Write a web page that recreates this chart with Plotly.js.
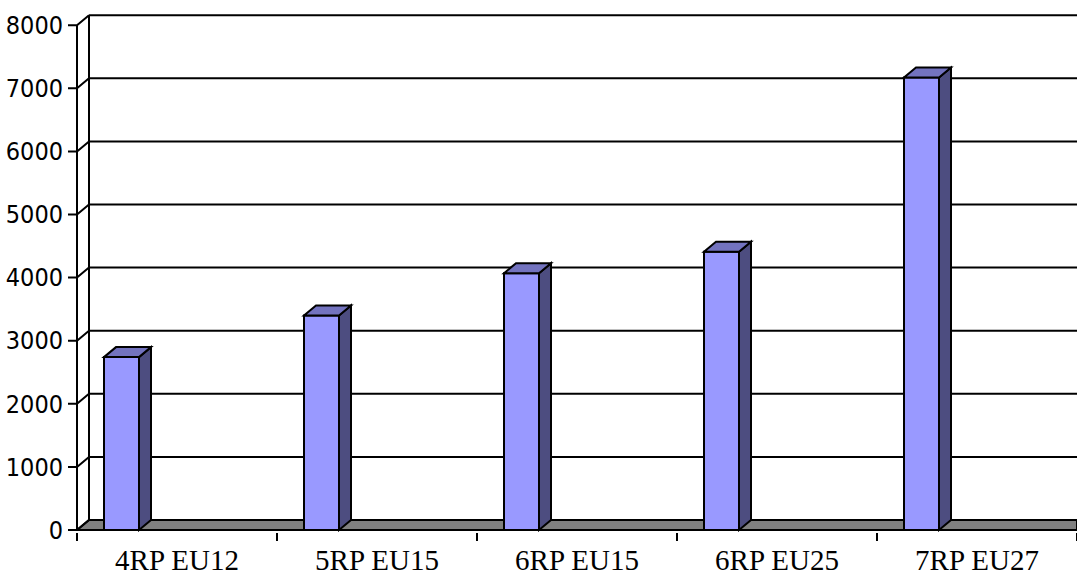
<!DOCTYPE html>
<html>
<head>
<meta charset="utf-8">
<script src="https://cdn.plot.ly/plotly-3.0.1.min.js"></script>
<style>
  html, body { margin: 0; padding: 0; background: #ffffff; }
  #chart { width: 1077px; height: 578px; }
</style>
</head>
<body>
<div id="chart"></div>
<script>
// ---- data ----
const categories = ["4RP EU12", "5RP EU15", "6RP EU15", "6RP EU25", "7RP EU27"];
const values = [2740, 3400, 4070, 4410, 7170];
const yTickValues = [0, 1000, 2000, 3000, 4000, 5000, 6000, 7000, 8000];
const yTickLabels = ["0", "1000", "2000", "3000", "4000", "5000", "6000", "7000", "8000"];

// ---- geometry / style ----
const W = 1077, H = 578;
const margin = { l: 68, r: 0, t: 8, b: 46 };
const plotW = W - margin.l - margin.r;
const plotH = H - margin.t - margin.b;
const pxPerCat = 200;                 // pixels per category
const pxPerUnit = 0.0631;             // pixels per y unit
const depthPx = { x: 12, y: 10 };     // 3D depth offset in pixels
const dX = depthPx.x / pxPerCat;      // depth in x data units
const dY = depthPx.y / pxPerUnit;     // depth in y data units
const xMin = 4.5 - plotW / pxPerCat;
const yMin = -2 / pxPerUnit;
const yMax = yMin + plotH / pxPerUnit;
const barOffset = -0.365, barWidth = 0.175;
const frontColor = "#9999FF", topColor = "#7373BF", sideColor = "#4D4D80";
const lineCol = "#000000";

const shapes = [];
// back-wall gridlines
yTickValues.forEach(v => {
  shapes.push({ type: "line", xref: "x", yref: "y", layer: "below",
    x0: -0.5 + dX, x1: 4.5, y0: v + dY, y1: v + dY,
    line: { color: lineCol, width: 2 } });
});
// floor
shapes.push({ type: "path", xref: "x", yref: "y", layer: "below",
  path: `M -0.5,0 L 4.5,0 L 4.5,${dY} L ${-0.5 + dX},${dY} Z`,
  fillcolor: "#808080", line: { color: lineCol, width: 2 } });
// back wall left edge
shapes.push({ type: "line", xref: "x", yref: "y", layer: "below",
  x0: -0.5 + dX, x1: -0.5 + dX, y0: dY, y1: 8000 + dY,
  line: { color: lineCol, width: 2 } });
// front axis line
shapes.push({ type: "line", xref: "x", yref: "y", layer: "below",
  x0: -0.5, x1: -0.5, y0: 0, y1: 8000,
  line: { color: lineCol, width: 2 } });
// y ticks (horizontal stub + diagonal connector to back wall)
yTickValues.forEach(v => {
  shapes.push({ type: "path", xref: "x", yref: "y", layer: "below",
    path: `M ${xMin},${v} L -0.5,${v} L ${-0.5 + dX},${v + dY}`,
    line: { color: lineCol, width: 2 } });
});
// bar side and top faces
values.forEach((v, i) => {
  const xl = i + barOffset, xr = i + barOffset + barWidth;
  shapes.push({ type: "path", xref: "x", yref: "y", layer: "above",
    path: `M ${xr},0 L ${xr + dX},${dY} L ${xr + dX},${v + dY} L ${xr},${v} Z`,
    fillcolor: sideColor, line: { color: lineCol, width: 2 } });
  shapes.push({ type: "path", xref: "x", yref: "y", layer: "above",
    path: `M ${xl},${v} L ${xr},${v} L ${xr + dX},${v + dY} L ${xl + dX},${v + dY} Z`,
    fillcolor: topColor, line: { color: lineCol, width: 2 } });
});

const trace = {
  type: "bar",
  x: [0, 1, 2, 3, 4],
  y: values,
  offset: barOffset,
  width: barWidth,
  marker: { color: frontColor, line: { color: lineCol, width: 2 } },
  hoverinfo: "skip"
};

const layout = {
  width: W, height: H,
  margin: margin,
  paper_bgcolor: "#ffffff",
  plot_bgcolor: "rgba(0,0,0,0)",
  showlegend: false,
  bargap: 0,
  xaxis: {
    type: "linear",
    range: [xMin, 4.5],
    tickmode: "array",
    tickvals: [0, 1, 2, 3, 4],
    ticktext: categories,
    ticks: "",
    showgrid: false, zeroline: false, showline: false,
    tickfont: { family: "Liberation Serif, Times New Roman, serif", size: 29, color: "#000" },
    ticklabelstandoff: 8,
    fixedrange: true
  },
  xaxis2: {
    overlaying: "x",
    anchor: "y",
    range: [xMin, 4.5],
    tickmode: "array",
    tickvals: [-0.5, 0.5, 1.5, 2.5, 3.5, 4.5],
    showticklabels: false,
    ticks: "outside", ticklen: 8, tickwidth: 2, tickcolor: "#000",
    showgrid: false, zeroline: false, showline: false,
    side: "bottom"
  },
  yaxis: {
    range: [yMin, yMax],
    tickmode: "array",
    tickvals: yTickValues,
    ticktext: yTickLabels,
    ticks: "",
    showgrid: false, zeroline: false, showline: false,
    tickfont: { family: "DejaVu Sans Condensed, Liberation Sans Narrow, Liberation Sans, sans-serif", size: 25, color: "#000" },
    ticklabelstandoff: 4,
    fixedrange: true
  },
  shapes: shapes
};

const tickTrace = { type: "scatter", x: [], y: [], xaxis: "x2", yaxis: "y", hoverinfo: "skip" };

Plotly.newPlot("chart", [trace, tickTrace], layout, { staticPlot: true, displayModeBar: false });
</script>
</body>
</html>
